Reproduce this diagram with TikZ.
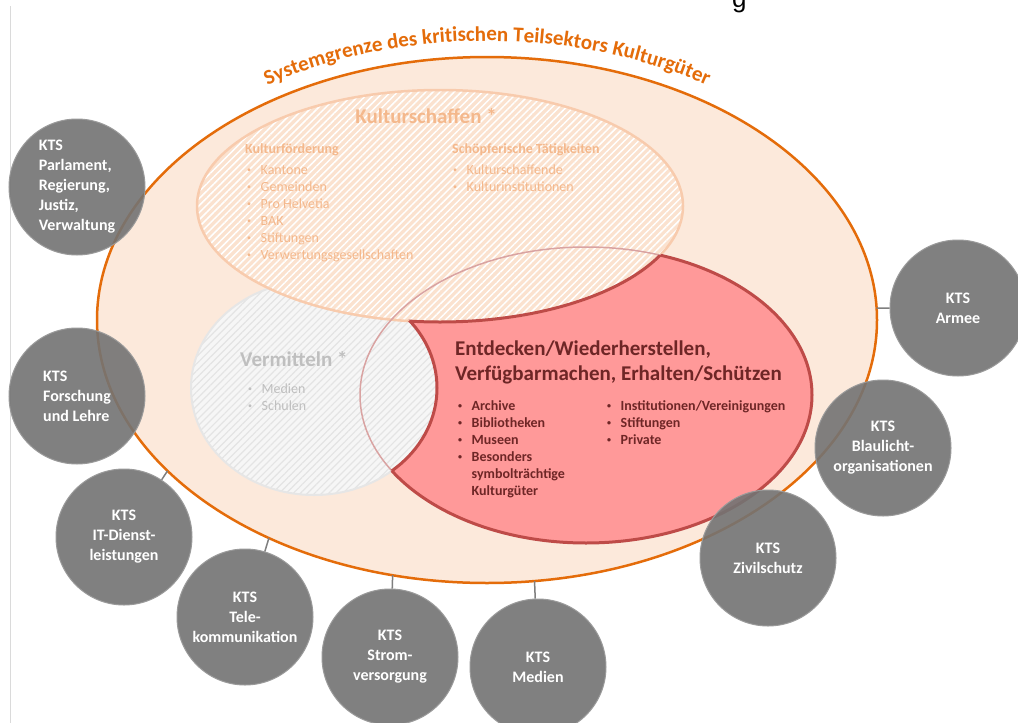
\documentclass[tikz,border=0pt]{standalone}
\usepackage{fontspec}
\setmainfont{Carlito}
\newfontfamily\arialfont{Liberation Sans}
\usetikzlibrary{patterns.meta,decorations.text,calc}

\definecolor{sysorange}{HTML}{E46C0A}
\definecolor{peach}{HTML}{FCE9DB}
\definecolor{ksfill}{HTML}{FBE2CF}
\definecolor{ksedge}{HTML}{F8CBAD}
\definecolor{kstext}{HTML}{F4B88C}
\definecolor{vmfill}{HTML}{F6F6F6}
\definecolor{vmhatch}{HTML}{E4E4E4}
\definecolor{vmedge}{HTML}{E6E6E6}
\definecolor{vmtext}{HTML}{BFBFBF}
\definecolor{redfill}{HTML}{FF9999}
\definecolor{rededge}{HTML}{BE4B48}
\definecolor{redthin}{HTML}{D9A3A2}
\definecolor{redtext}{HTML}{6E2626}
\definecolor{ktsgrey}{HTML}{737373}
\definecolor{ktsedge}{HTML}{9A9A9A}
\definecolor{linkgrey}{HTML}{7F7F7F}
\definecolor{framegrey}{HTML}{DADADA}

% small list bullet with hanging indent
\newcommand{\smallbullet}{\raisebox{1.6pt}{\fontsize{8}{8}\selectfont\textbullet}}
\newcommand{\bitem}[1]{\makebox[14.5pt][l]{\hspace{1pt}\smallbullet}#1}
\newcommand{\bcont}[1]{\makebox[14.5pt][l]{}#1}

\tikzset{
  kts/.style={circle, minimum size=136pt, inner sep=0pt, fill=ktsgrey,
    fill opacity=0.9, text opacity=1, draw=ktsedge, line width=1pt,
    text=white, font=\bfseries\fontsize{16}{20}\selectfont, align=center},
  link/.style={draw=linkgrey, line width=1.5pt},
  txt/.style={inner sep=0pt, anchor=base west},
  kstitle/.style={txt, anchor=base, text=kstext, font=\bfseries\fontsize{21}{25}\selectfont},
  kshead/.style={txt, text=kstext, font=\bfseries\fontsize{14}{17}\selectfont},
  ksitem/.style={txt, text=kstext, font=\fontsize{14}{17}\selectfont},
  vmtitle/.style={txt, text=vmtext, font=\bfseries\fontsize{21}{25}\selectfont},
  vmitem/.style={txt, text=vmtext, font=\fontsize{14}{17}\selectfont},
  redtitle/.style={txt, text=redtext, font=\bfseries\fontsize{21}{25}\selectfont},
  reditem/.style={txt, text=redtext, font=\bfseries\fontsize{14}{17}\selectfont},
  redborder/.style={draw=rededge, line width=3pt},
  outerpath/.style={insert path={(487,320) ellipse [x radius=390, y radius=263]}},
  kspath/.style={insert path={(440,206) ellipse [x radius=243, y radius=116]}},
  vmpath/.style={insert path={(314,388) ellipse [x radius=123, y radius=107]}},
  redpath/.style={insert path={(586,395) ellipse [x radius=226, y radius=148]}},
}

\begin{document}
\begin{tikzpicture}[x=1pt,y=-1pt]
\useasboundingbox (0,0) rectangle (1018,723);
\clip (0,0) rectangle (1018,723);
\fill[white] (0,0) rectangle (1018,723);

% page edge rule on the left
\draw[framegrey, line width=1pt] (10,6) -- (10,723);

% cut-off heading letter at the top
\node[inner sep=0pt, anchor=base west, font=\arialfont\fontsize{26}{30}\selectfont] (gfrag) at (732,7) {g};

% system boundary
\coordinate (oc) at (487,320);
\fill[peach, outerpath];
\draw[sysorange, line width=2.5pt, outerpath];

% sector region (red), later partly covered
\fill[redfill, redpath];

% Vermitteln
\fill[vmfill, vmpath];
\fill[pattern={Lines[angle=45,distance=5pt,line width=1.2pt]}, pattern color=vmhatch, vmpath];
\draw[vmedge, line width=2pt, vmpath];

% Kulturschaffen
\fill[ksfill, kspath];
\fill[pattern={Lines[angle=45,distance=5pt,line width=1.5pt]}, pattern color=white, kspath];
\draw[ksedge, line width=2.5pt, kspath];

% faint outline of the sector ellipse across the hatched areas
\draw[redthin, line width=1.5pt, redpath];

% thick border of the visible sector region
\begin{scope}[even odd rule]
  \clip (-20,-20) rectangle (1040,760) (440,206) ellipse [x radius=243, y radius=116];
  \clip (-20,-20) rectangle (1040,760) (314,388) ellipse [x radius=123, y radius=107];
  \draw[redborder, redpath];
\end{scope}
\begin{scope}[even odd rule]
  \clip (586,395) ellipse [x radius=226, y radius=148];
  \clip (-20,-20) rectangle (1040,760) (314,388) ellipse [x radius=123, y radius=107];
  \draw[redborder, kspath];
\end{scope}
\begin{scope}[even odd rule]
  \clip (586,395) ellipse [x radius=226, y radius=148];
  \clip (-20,-20) rectangle (1040,760) (440,206) ellipse [x radius=243, y radius=116];
  \draw[redborder, vmpath];
\end{scope}

% Kulturschaffen texts
\node[kstitle] (ks-title) at (426,123) {Kulturschaffen *};
\node[kshead] (ks-h1) at (245,153) {Kulturförderung};
\node[kshead] (ks-h2) at (452,153) {Schöpferische Tätigkeiten};
\foreach \t [count=\i from 0] in {Kantone,Gemeinden,Pro Helvetia,BAK,Stiftungen,Verwertungsgesellschaften}
  \node[ksitem] (kf-\i) at (246,174+17*\i) {\bitem{\t}};
\foreach \t [count=\i from 0] in {Kulturschaffende,Kulturinstitutionen}
  \node[ksitem] (sf-\i) at (452,174+17*\i) {\bitem{\t}};

% Vermitteln texts
\node[vmtitle] (vm-title) at (240,366) {Vermitteln *};
\foreach \t [count=\i from 0] in {Medien,Schulen}
  \node[vmitem] (vm-\i) at (247,393+17*\i) {\bitem{\t}};

% sector texts
\node[redtitle] (red-t1) at (455,355) {Entdecken/Wiederherstellen,};
\node[redtitle] (red-t2) at (455,380) {Verfügbarmachen, Erhalten/Schützen};
\foreach \t [count=\i from 0] in {Archive,Bibliotheken,Museen,Besonders}
  \node[reditem] (rl-\i) at (457,410+17*\i) {\bitem{\t}};
\node[reditem] (rl-4) at (457,478) {\bcont{symbolträchtige}};
\node[reditem] (rl-5) at (457,495) {\bcont{Kulturgüter}};
\foreach \t [count=\i from 0] in {Institutionen/Vereinigungen,Stiftungen,Private}
  \node[reditem] (rr-\i) at (606,410+17*\i) {\bitem{\t}};

% neighbouring sectors
\node[kts, align=left] (parl) at (77,187) {KTS\\Parlament,\\Regierung,\\Justiz,\\Verwaltung};
\node[kts, align=left] (forsch) at (77,396) {KTS\\Forschung\\und Lehre};
\node[kts] (it) at (124,537) {KTS\\IT-Dienst-\\leistungen};
\node[kts] (tele) at (245,617) {KTS\\Tele-\\kommunikation};
\node[kts] (strom) at (390,657) {KTS\\Strom-\\versorgung};
\node[kts] (medien) at (538,667) {KTS\\Medien};
\node[kts] (zivil) at (768,558) {KTS\\Zivilschutz};
\node[kts] (blau) at (883,448) {KTS\\Blaulicht-\\organisationen};
\node[kts] (armee) at (958,308) {KTS\\Armee};

% links from the boundary to the sectors
\coordinate (b-it) at ($(oc)+(145:390 and 263)$);
\coordinate (b-tele) at ($(oc)+(124:390 and 263)$);
\coordinate (b-strom) at ($(oc)+(104:390 and 263)$);
\coordinate (b-medien) at ($(oc)+(83:390 and 263)$);
\coordinate (b-armee) at ($(oc)+(-2.6:390 and 263)$);
\draw[link] (b-it) -- (it);
\draw[link] (b-tele) -- (tele);
\draw[link] (b-strom) -- (strom);
\draw[link] (b-medien) -- (medien);
\draw[link] (b-armee) -- (armee);

% boundary caption
\path[decorate, decoration={text along path, text align=center, text color=sysorange,
  text={|\bfseries\fontsize{21}{25}\selectfont|Systemgrenze des kritischen Teilsektors Kulturgüter}}]
  ($(oc)+(225:406 and 279)$) arc (225:315:406 and 279);
\end{tikzpicture}
\end{document}
